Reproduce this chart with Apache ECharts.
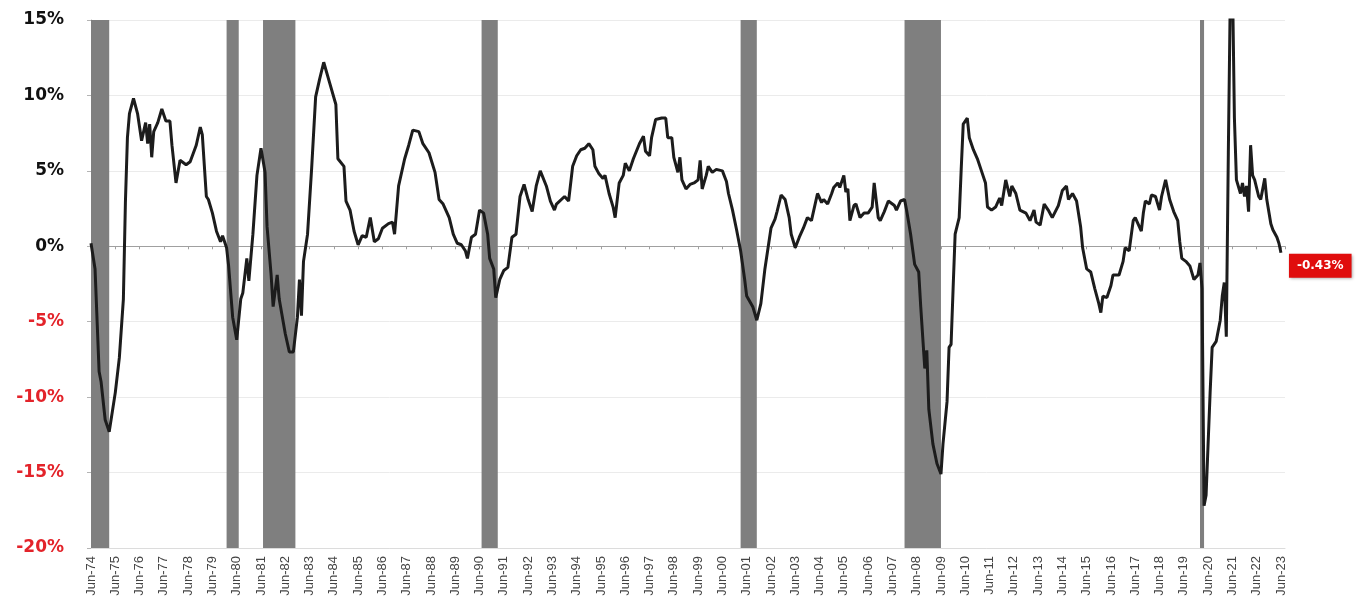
<!DOCTYPE html>
<html>
<head>
<meta charset="utf-8">
<script src="https://cdn.jsdelivr.net/npm/echarts@6/dist/echarts.min.js"></script>
<style>
	html, body { margin: 0; padding: 0; background: #fff; }
	#chart { width: 1364px; height: 600px; }
</style>
</head>
<body>
<div id="chart"></div>
<script>
// months counted from Jun-74 (0) to Jun-23 (588)
let yearLabels = [
	'Jun-74', 'Jun-75', 'Jun-76', 'Jun-77', 'Jun-78', 'Jun-79', 'Jun-80', 'Jun-81', 'Jun-82', 'Jun-83',
	'Jun-84', 'Jun-85', 'Jun-86', 'Jun-87', 'Jun-88', 'Jun-89', 'Jun-90', 'Jun-91', 'Jun-92', 'Jun-93',
	'Jun-94', 'Jun-95', 'Jun-96', 'Jun-97', 'Jun-98', 'Jun-99', 'Jun-00', 'Jun-01', 'Jun-02', 'Jun-03',
	'Jun-04', 'Jun-05', 'Jun-06', 'Jun-07', 'Jun-08', 'Jun-09', 'Jun-10', 'Jun-11', 'Jun-12', 'Jun-13',
	'Jun-14', 'Jun-15', 'Jun-16', 'Jun-17', 'Jun-18', 'Jun-19', 'Jun-20', 'Jun-21', 'Jun-22', 'Jun-23',
];

let months = [
	0, 2, 4, 5, 7, 9, 12, 14, 16, 17, 18, 19, 21, 23, 25, 27, 28, 29, 30, 31,
	33, 35, 37, 39, 40, 42, 44, 47, 49, 52, 54, 55, 57, 58, 60, 62, 64, 65, 67, 68,
	70, 72, 74, 75, 77, 78, 80, 82, 84, 86, 87, 89, 90, 92, 93, 96, 98, 100, 102, 103,
	104, 105, 107, 109, 111, 113, 115, 118, 121, 122, 125, 126, 128, 130, 132, 134, 136, 138, 140, 142,
	144, 147, 149, 150, 152, 155, 157, 159, 162, 164, 167, 170, 172, 174, 177, 179, 181, 183, 185, 186,
	188, 190, 192, 194, 196, 197, 199, 200, 202, 204, 206, 208, 210, 212, 214, 216, 218, 220, 222, 225,
	227, 229, 230, 234, 236, 238, 240, 242, 244, 246, 248, 249, 251, 253, 254, 256, 258, 259, 261, 263,
	264, 266, 268, 271, 273, 274, 276, 277, 279, 282, 284, 285, 287, 288, 290, 291, 292, 294, 296, 298,
	300, 301, 302, 304, 305, 307, 309, 312, 314, 315, 317, 319, 321, 323, 324, 327, 329, 331, 333, 336,
	338, 339, 341, 343, 345, 346, 348, 350, 352, 354, 356, 359, 361, 362, 364, 366, 367, 369, 370, 372,
	373, 374, 375, 377, 378, 380, 382, 384, 386, 387, 389, 390, 392, 394, 397, 398, 400, 402, 403, 405,
	407, 409, 410, 412, 413, 414, 416, 418, 420, 421, 423, 424, 425, 426, 427, 429, 430, 431, 433, 434,
	436, 438, 440, 442, 443, 445, 447, 449, 450, 452, 454, 455, 457, 459, 462, 464, 466, 467, 469, 471,
	473, 475, 478, 480, 482, 483, 485, 487, 489, 490, 492, 494, 496, 498, 499, 500, 502, 504, 505, 508,
	510, 511, 513, 515, 516, 519, 520, 521, 523, 524, 526, 528, 529, 531, 533, 535, 537, 538, 539, 541,
	543, 545, 547, 548, 549, 550, 551, 553, 554, 556, 558, 559, 560, 561, 562, 563, 564, 565, 566, 568,
	569, 570, 571, 572, 573, 574, 575, 577, 578, 580, 581, 583, 584, 586, 587, 588,
];

let yoyPct = [
	0.2, -1.5, -8.3, -9.0, -11.5, -12.3, -9.7, -7.4, -3.5, 2.9, 7.2, 8.8, 9.8, 8.8, 7.0, 8.2, 6.8, 8.1, 5.9, 7.6,
	8.2, 9.1, 8.3, 8.3, 6.7, 4.2, 5.7, 5.4, 5.6, 6.7, 7.9, 7.4, 3.3, 3.1, 2.2, 1.0, 0.3, 0.7, -0.1, -1.3,
	-4.7, -6.2, -3.5, -3.1, -0.8, -2.3, 0.8, 4.7, 6.5, 4.9, 1.3, -1.9, -4.0, -1.9, -3.5, -5.8, -7.0, -7.0, -4.7, -2.2,
	-4.6, -1.0, 0.8, 5.1, 9.9, 11.1, 12.2, 10.8, 9.4, 5.8, 5.3, 3.0, 2.4, 1.0, 0.1, 0.7, 0.6, 1.9, 0.3, 0.5,
	1.2, 1.5, 1.6, 0.8, 4.0, 5.8, 6.7, 7.7, 7.6, 6.8, 6.2, 4.9, 3.1, 2.8, 1.9, 0.8, 0.2, 0.1, -0.3, -0.8,
	0.6, 0.8, 2.4, 2.2, 0.8, -0.8, -1.5, -3.4, -2.2, -1.6, -1.4, 0.6, 0.8, 3.3, 4.1, 3.1, 2.3, 4.0, 5.0, 4.0,
	3.0, 2.4, 2.8, 3.3, 3.0, 5.3, 6.0, 6.4, 6.5, 6.8, 6.4, 5.3, 4.8, 4.5, 4.7, 3.5, 2.6, 1.9, 4.2, 4.7,
	5.5, 5.0, 5.8, 6.8, 7.3, 6.3, 6.0, 7.2, 8.4, 8.5, 8.5, 7.2, 7.2, 5.9, 4.9, 5.9, 4.4, 3.8, 4.1, 4.2,
	4.4, 5.7, 3.8, 4.7, 5.3, 4.9, 5.1, 5.0, 4.3, 3.5, 2.4, 1.1, -0.3, -2.2, -3.3, -4.0, -4.9, -3.8, -1.5, 1.2,
	1.8, 2.3, 3.4, 3.1, 1.9, 0.8, -0.1, 0.6, 1.2, 1.9, 1.7, 3.5, 2.9, 3.1, 2.8, 3.5, 3.9, 4.2, 3.9, 4.7,
	3.6, 3.8, 1.7, 2.7, 2.8, 1.9, 2.2, 2.2, 2.6, 4.2, 1.9, 1.7, 2.3, 3.0, 2.7, 2.4, 3.0, 3.1, 2.4, 0.8,
	-1.2, -1.7, -4.0, -8.1, -6.9, -10.8, -13.1, -14.4, -15.1, -13.1, -10.3, -6.7, -6.5, -2.8, 0.8, 1.9, 5.1, 8.1, 8.5, 7.2,
	6.4, 5.8, 5.0, 4.2, 2.6, 2.4, 2.6, 3.2, 2.7, 4.4, 3.3, 4.0, 3.5, 2.4, 2.2, 1.7, 2.4, 1.6, 1.4, 2.8,
	2.4, 1.9, 2.7, 3.7, 4.0, 3.1, 3.5, 3.0, 1.3, -0.1, -1.5, -1.7, -2.8, -3.8, -4.4, -3.3, -3.4, -2.6, -1.9, -1.9,
	-1.0, -0.1, -0.3, 1.7, 1.9, 1.0, 2.2, 3.0, 2.8, 3.4, 3.3, 2.4, 3.3, 4.4, 3.1, 2.3, 1.7, 0.3, -0.8, -1.0,
	-1.3, -2.2, -1.9, -1.1, -2.8, -17.2, -16.5, -9.7, -6.7, -6.3, -4.9, -3.3, -2.4, -6.0, 6.2, 17, 18, 8.5, 4.4, 3.5,
	4.2, 3.3, 4.0, 2.3, 6.7, 4.7, 4.4, 3.3, 3.1, 4.5, 3.1, 1.5, 1.1, 0.6, 0.2, -0.43,
];

// recession shading, start/end month
let recessionStart = [0, 67, 85, 193, 321, 402, 548];
let recessionEnd = [9, 73, 101, 201, 329, 420, 550];

let chart = echarts.init(document.getElementById('chart'));

let lineData = months.map((m, i) => [m, yoyPct[i]]);
let shading = recessionStart.map((s, i) => [{xAxis: s}, {xAxis: recessionEnd[i]}]);

let monthLabel = (m) => (m % 12 === 0 ? yearLabels[m / 12] || '' : '');

chart.setOption({
	animation: false,
	backgroundColor: '#fff',
	grid: {
		left: 91,
		right: 79,
		top: 20,
		bottom: 52,
	},
	xAxis: [
		{
			type: 'value',
			min: 0,
			max: 590,
			interval: 12,
			position: 'bottom',
			axisLine: {onZero: false, lineStyle: {color: '#dcdcdc'}},
			axisTick: {show: false},
			splitLine: {show: false},
			axisLabel: {
				rotate: 90,
				margin: 8,
				fontSize: 13,
				fontFamily: 'Liberation Sans Narrow, Liberation Sans, sans-serif',
				color: '#444',
				formatter: monthLabel,
			},
		},
		{
			type: 'value',
			min: 0,
			max: 590,
			interval: 12,
			position: 'bottom',
			axisLine: {onZero: true, lineStyle: {color: '#a0a0a0', width: 1}},
			axisTick: {show: true, length: 3, lineStyle: {color: '#a0a0a0'}},
			splitLine: {show: false},
			axisLabel: {show: false},
		},
	],
	yAxis: {
		type: 'value',
		min: -20,
		max: 15,
		interval: 5,
		axisLine: {show: true, lineStyle: {color: '#b4b4b4'}},
		axisTick: {show: true, length: 4, lineStyle: {color: '#b4b4b4'}},
		splitLine: {lineStyle: {color: '#ebebeb'}},
		axisLabel: {
			margin: 27,
			fontSize: 17,
			fontWeight: 'bold',
			fontFamily: 'DejaVu Sans, sans-serif',
			formatter: (v) => v + '%',
			color: (v) => (v < 0 ? '#e3232a' : '#111'),
		},
	},
	series: [
		{
			type: 'line',
			xAxisIndex: 0,
			data: lineData,
			showSymbol: false,
			lineStyle: {color: '#1c1c1c', width: 3},
			z: 3,
			markArea: {
				silent: true,
				itemStyle: {color: '#7f7f7f', opacity: 1},
				data: shading,
			},
			endLabel: {
				show: true,
				formatter: (p) => p.value[1].toFixed(2) + '%',
				backgroundColor: '#e00d0d',
				color: '#fff',
				fontWeight: 'bold',
				fontSize: 12,
				fontFamily: 'DejaVu Sans, sans-serif',
				padding: [6, 8],
				offset: [0, 13],
				shadowColor: 'rgba(0,0,0,0.35)',
				shadowBlur: 3,
				shadowOffsetX: 1,
				shadowOffsetY: 1,
			},
		},
	],
});
</script>
</body>
</html>
